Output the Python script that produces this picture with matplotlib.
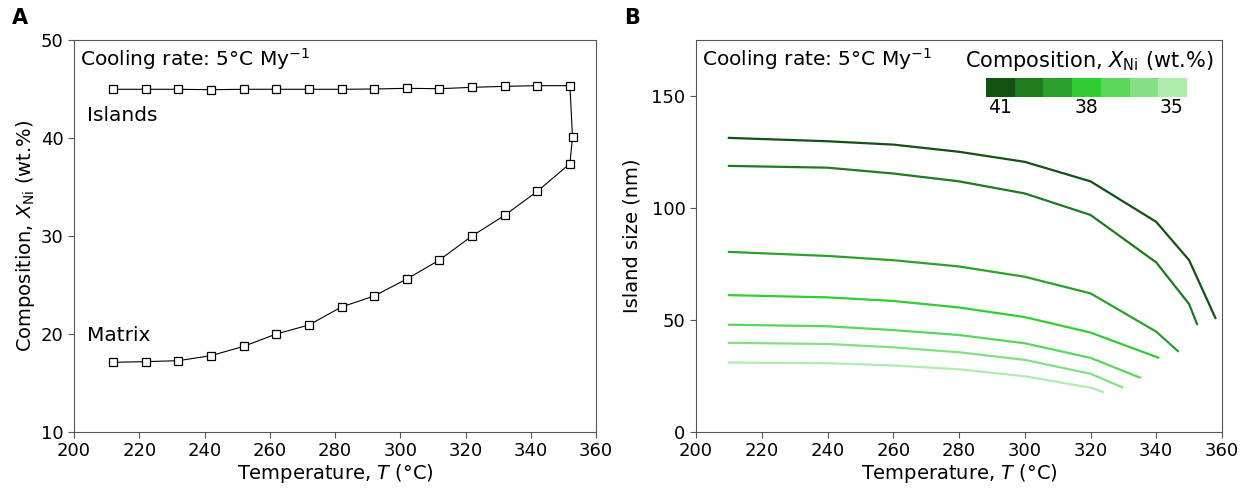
import numpy as np
import matplotlib
matplotlib.use("Agg")
import matplotlib.pyplot as plt
from matplotlib.colors import ListedColormap

plt.rcParams['font.family'] = ['DejaVu Sans']
plt.rcParams['mathtext.fontset'] = 'dejavusans'

# panel A: composition of islands and matrix vs temperature
islands_T = [212, 222, 232, 242, 252, 262, 272, 282, 292, 302, 312, 322, 332, 342, 352]
islands_X = [44.97, 44.97, 44.97, 44.93, 44.97, 44.97, 44.97, 44.97, 45.0, 45.07,
             45.03, 45.17, 45.27, 45.34, 45.34]
mid_T = [352.8]
mid_X = [40.1]
matrix_T = [212, 222, 232, 242, 252, 262, 272, 282, 292, 302, 312, 322, 332, 342, 352]
matrix_X = [17.11, 17.18, 17.28, 17.79, 18.74, 20.0, 20.92, 22.76, 23.88, 25.61,
            27.55, 30.0, 32.11, 34.56, 37.38]

# panel B: island size vs temperature for each composition
compositions = [41, 40, 39, 38, 37, 36, 35]
size_T = {
    41: [210, 240, 260, 280, 300, 320, 340, 350, 358],
    40: [210, 240, 260, 280, 300, 320, 340, 350, 352.4],
    39: [210, 240, 260, 280, 300, 320, 340, 346.6],
    38: [210, 240, 260, 280, 300, 320, 340.6],
    37: [210, 240, 260, 280, 300, 320, 335],
    36: [210, 240, 260, 280, 300, 320, 329.6],
    35: [210, 240, 260, 280, 300, 320.7, 323.8],
}
size_nm = {
    41: [131.3, 129.8, 128.3, 125.1, 120.6, 111.9, 93.8, 76.7, 50.9],
    40: [118.8, 118.0, 115.4, 111.9, 106.5, 96.9, 75.7, 57.1, 48.2],
    39: [80.4, 78.6, 76.7, 73.9, 69.3, 61.9, 44.8, 36.1],
    38: [61.1, 60.1, 58.5, 55.6, 51.3, 44.4, 33.2],
    37: [47.9, 47.2, 45.5, 43.3, 39.6, 33.1, 24.3],
    36: [39.8, 39.3, 37.8, 35.6, 32.2, 26.0, 20.0],
    35: [31.0, 30.7, 29.7, 28.0, 24.9, 19.6, 17.8],
}
greens = ['#145214', '#1e7b1e', '#2ca02c', '#32cd32', '#5ad65a', '#84e084', '#b0ecb0']
cbar_labels = {41: '41', 38: '38', 35: '35'}

FS = 13       # tick labels
FS_LAB = 14   # axis labels
FS_TXT = 14.5 # annotations
SPINE = '#555555'

fig = plt.figure(figsize=(12.5, 4.9), dpi=100)
W, H = 1250, 490


def px_axes(left, top, right, bottom):
    return fig.add_axes([left / W, 1 - bottom / H, (right - left) / W, (bottom - top) / H])


def style(ax):
    for s in ax.spines.values():
        s.set_color(SPINE)
    ax.tick_params(labelsize=FS, color=SPINE, length=4)


# ---- panel A
axA = px_axes(74, 40, 596, 432)
all_T = islands_T + mid_T + matrix_T[::-1]
all_X = islands_X + mid_X + matrix_X[::-1]
axA.plot(all_T, all_X, color='black', lw=0.8, marker='s', ms=5.6,
         mfc='white', mec='black', mew=0.9)
axA.set_xlim(200, 360)
axA.set_ylim(10, 50)
axA.set_xticks(np.arange(200, 361, 20))
axA.set_yticks([10, 20, 30, 40, 50])
axA.set_xlabel('Temperature, $T$ (°C)', fontsize=FS_LAB, labelpad=1)
axA.set_ylabel('Composition, $X_{\\mathrm{Ni}}$ (wt.%)', fontsize=FS_LAB, labelpad=3)
axA.text(0.012, 0.985, 'Cooling rate: 5°C My$^{-1}$', transform=axA.transAxes,
         fontsize=FS_TXT, va='top', ha='left')
axA.text(204, 42.3, 'Islands', fontsize=FS_TXT, va='center', ha='left')
axA.text(204, 19.8, 'Matrix', fontsize=FS_TXT, va='center', ha='left')
style(axA)

# ---- panel B
axB = px_axes(696, 40, 1222, 432)
for comp, col in zip(compositions, greens):
    axB.plot(size_T[comp], size_nm[comp], color=col, lw=1.6)
axB.set_xlim(200, 360)
axB.set_ylim(0, 175)
axB.set_xticks(np.arange(200, 361, 20))
axB.set_yticks([0, 50, 100, 150])
axB.set_xlabel('Temperature, $T$ (°C)', fontsize=FS_LAB, labelpad=1)
axB.set_ylabel('Island size (nm)', fontsize=FS_LAB, labelpad=7)
axB.text(0.012, 0.985, 'Cooling rate: 5°C My$^{-1}$', transform=axB.transAxes,
         fontsize=FS_TXT, va='top', ha='left')
style(axB)

# colour key
axC = px_axes(986, 78, 1186, 97)
axC.imshow([list(range(len(compositions)))], cmap=ListedColormap(greens),
           aspect='auto', interpolation='nearest')
idx = [compositions.index(c) for c in cbar_labels]
axC.set_xticks(idx)
axC.set_xticklabels(list(cbar_labels.values()), fontsize=13.5)
axC.set_yticks([])
axC.tick_params(length=0, pad=1)
for s in axC.spines.values():
    s.set_visible(False)
fig.text(1089 / W, 1 - 61 / H, 'Composition, $X_{\\mathrm{Ni}}$ (wt.%)',
         fontsize=15, ha='center', va='center')

fig.text(12 / W, 1 - 18 / H, 'A', fontsize=15, fontweight='bold', va='center')
fig.text(624 / W, 1 - 18 / H, 'B', fontsize=15, fontweight='bold', va='center')

fig.savefig('out.png', dpi=100)
